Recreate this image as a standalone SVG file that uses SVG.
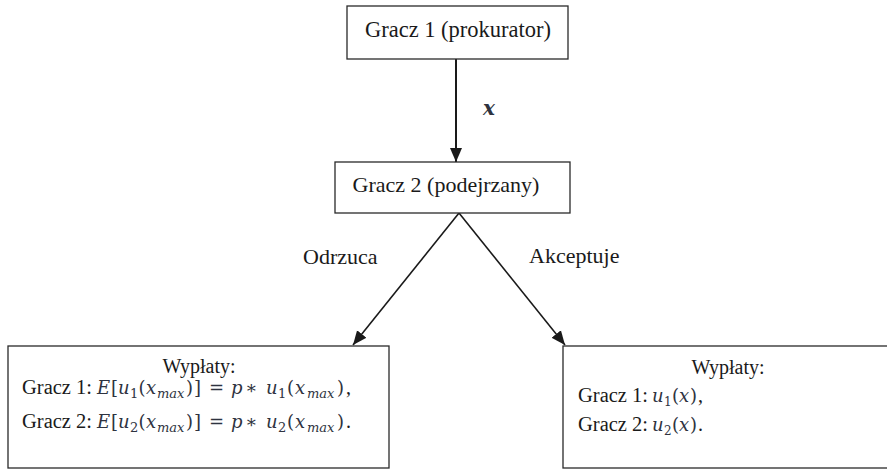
<svg xmlns="http://www.w3.org/2000/svg" width="887" height="470" viewBox="0 0 887 470">
<style>
.box{fill:#fff;stroke:#2a2a2a;stroke-width:1.3}
.t{font-family:"Liberation Serif","Times New Roman",serif;fill:#1a1a1a}
.m{font-family:"DejaVu Serif","Liberation Serif",serif;font-style:italic;fill:#2e3340}
.mr{font-family:"DejaVu Serif","Liberation Serif",serif;font-style:normal;fill:#2e3340}
.sub{font-size:13px}
.edge{stroke:#1a1a1a;fill:none}
</style>
<defs>
<marker id="ah" markerUnits="userSpaceOnUse" markerWidth="14" markerHeight="14" viewBox="0 0 14 14" refX="14" refY="7" orient="auto">
<path d="M0,1 L14,7 L0,13 Z" fill="#1a1a1a"/>
</marker>
</defs>
<g id="connectors">
<line class="edge" x1="456" y1="59" x2="456" y2="162" stroke-width="2" marker-end="url(#ah)"/>
<line class="edge" x1="459" y1="213" x2="353" y2="345" stroke-width="1.6" marker-end="url(#ah)"/>
<line class="edge" x1="459" y1="213" x2="565" y2="345" stroke-width="1.6" marker-end="url(#ah)"/>
<text class="m" x="483" y="115" font-size="20" font-weight="bold">x</text>
<text class="t" x="303" y="264" font-size="22">Odrzuca</text>
<text class="t" x="529" y="263" font-size="22">Akceptuje</text>
</g>
<g id="gracz1">
<rect class="box" x="347" y="6" width="221" height="53"/>
<text class="t" x="458" y="37" font-size="22.5" text-anchor="middle">Gracz 1 (prokurator)</text>
</g>
<g id="gracz2">
<rect class="box" x="335" y="162" width="235" height="51"/>
<text class="t" x="446" y="192" font-size="22" text-anchor="middle">Gracz 2 (podejrzany)</text>
</g>
<g id="odrzuca">
<rect class="box" x="8" y="346" width="381" height="122"/>
<text class="t" x="199" y="373" font-size="20" text-anchor="middle">Wypłaty:</text>
<text class="t" x="22" y="394" font-size="20.5">Gracz 1:</text>
<text class="m" y="394" font-size="18"><tspan x="97">E</tspan><tspan class="mr" x="111">[</tspan><tspan x="118">u</tspan><tspan class="mr sub" x="130" dy="4">1</tspan><tspan class="mr" x="138.5" dy="-4">(</tspan><tspan x="146">x</tspan><tspan class="sub" x="157" dy="4">max</tspan><tspan class="mr" x="186" dy="-4">)</tspan><tspan class="mr" x="194">]</tspan><tspan class="mr" x="209">=</tspan><tspan x="231">p</tspan><tspan class="mr" x="245">∗</tspan><tspan x="266">u</tspan><tspan class="mr sub" x="278" dy="4">1</tspan><tspan class="mr" x="287" dy="-4">(</tspan><tspan x="295">x</tspan><tspan class="sub" x="307" dy="4">max</tspan><tspan class="mr" x="337" dy="-4">)</tspan></text>
<text class="t" x="346" y="394" font-size="20">,</text>
<text class="t" x="22" y="428" font-size="20.5">Gracz 2:</text>
<text class="m" y="428" font-size="18"><tspan x="97">E</tspan><tspan class="mr" x="111">[</tspan><tspan x="118">u</tspan><tspan class="mr sub" x="130" dy="4">2</tspan><tspan class="mr" x="138.5" dy="-4">(</tspan><tspan x="146">x</tspan><tspan class="sub" x="157" dy="4">max</tspan><tspan class="mr" x="186" dy="-4">)</tspan><tspan class="mr" x="194">]</tspan><tspan class="mr" x="209">=</tspan><tspan x="231">p</tspan><tspan class="mr" x="245">∗</tspan><tspan x="266">u</tspan><tspan class="mr sub" x="278" dy="4">2</tspan><tspan class="mr" x="287" dy="-4">(</tspan><tspan x="295">x</tspan><tspan class="sub" x="307" dy="4">max</tspan><tspan class="mr" x="337" dy="-4">)</tspan></text>
<text class="t" x="346" y="428" font-size="20">.</text>
</g>
<g id="akceptuje">
<rect class="box" x="563" y="346" width="330" height="122"/>
<text class="t" x="728" y="374" font-size="20" text-anchor="middle">Wypłaty:</text>
<text class="t" x="578" y="402" font-size="20.5">Gracz 1:</text>
<text class="m" y="402" font-size="18"><tspan x="652">u</tspan><tspan class="mr" x="664" dy="4" font-size="12">1</tspan><tspan class="mr" x="672" dy="-4">(</tspan><tspan x="679">x</tspan><tspan class="mr" x="690">)</tspan></text>
<text class="t" x="698" y="402" font-size="20">,</text>
<text class="t" x="578" y="431" font-size="20.5">Gracz 2:</text>
<text class="m" y="431" font-size="18"><tspan x="652">u</tspan><tspan class="mr" x="664" dy="4" font-size="12">2</tspan><tspan class="mr" x="672" dy="-4">(</tspan><tspan x="679">x</tspan><tspan class="mr" x="690">)</tspan></text>
<text class="t" x="698" y="431" font-size="20">.</text>
</g>
</svg>
